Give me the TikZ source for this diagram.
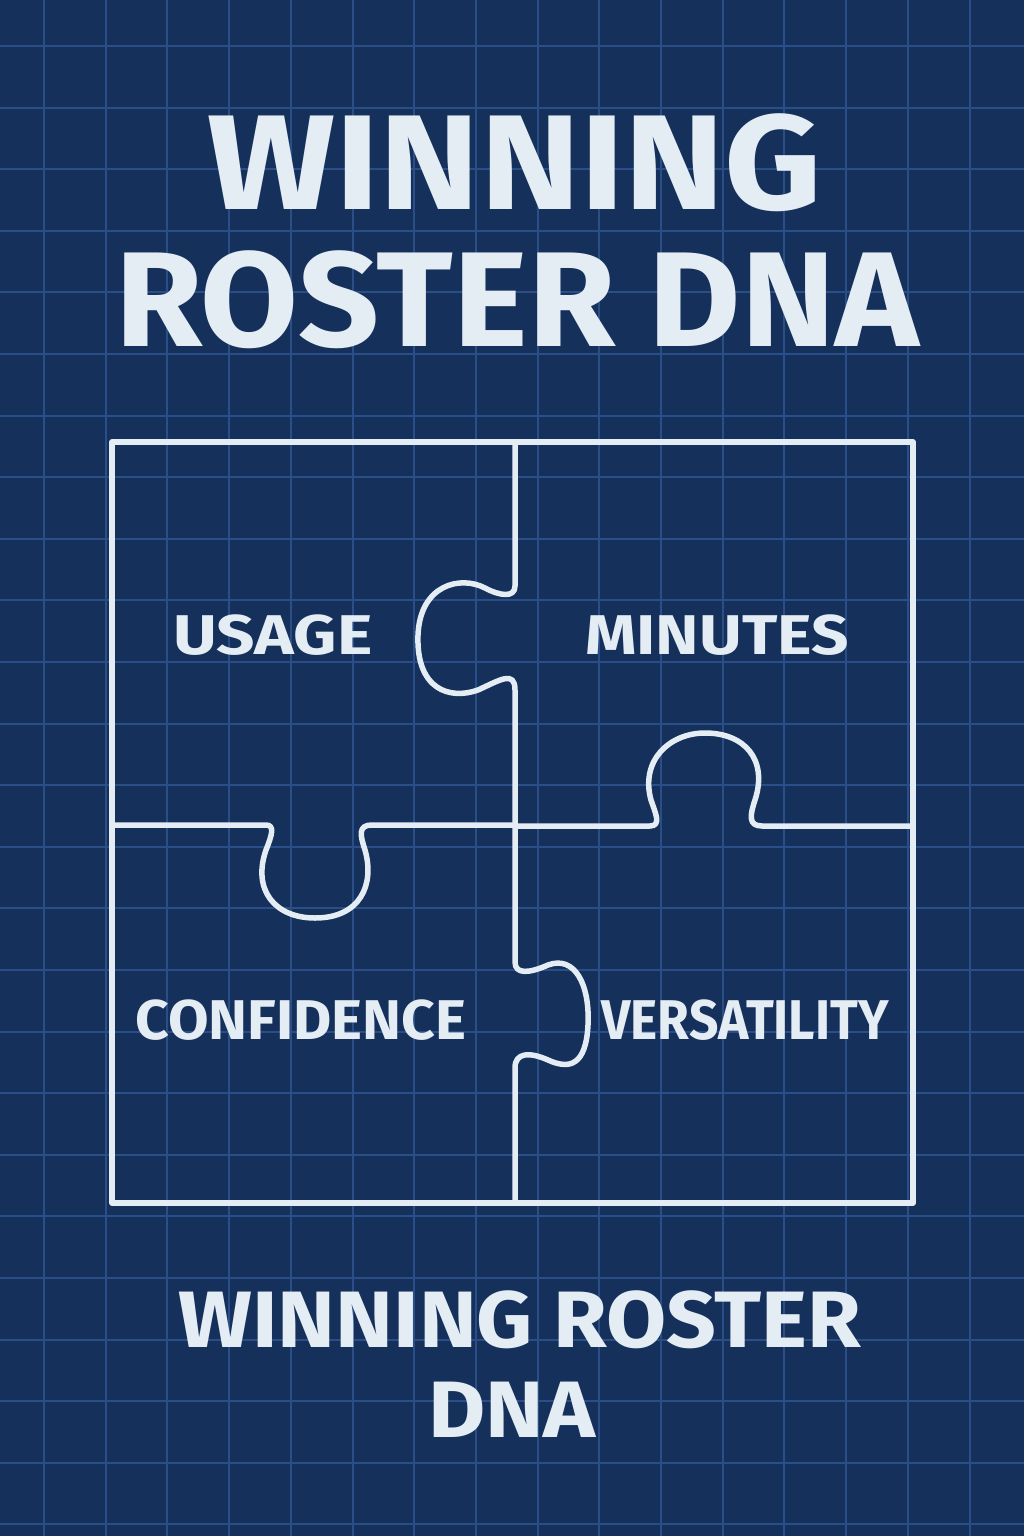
\documentclass[tikz,border=0pt]{standalone}
\usepackage{fontspec}
\setmainfont{Fira Sans}
\definecolor{bg}{HTML}{15305A}
\definecolor{gridc}{HTML}{2A4F88}
\definecolor{chalk}{HTML}{E4ECF4}
\begin{document}
\begin{tikzpicture}[x=1pt,y=-1pt,
  piece/.style={draw=chalk,line width=5.5pt,line join=round,line cap=round},
  lbl/.style={text=chalk,font=\fontsize{56}{56}\selectfont\bfseries,inner sep=0pt,anchor=center},
  ttl/.style={text=chalk,font=\fontsize{135}{135}\selectfont\bfseries,inner sep=0pt,anchor=center},
  sub/.style={text=chalk,font=\fontsize{80}{80}\selectfont\bfseries,inner sep=0pt,anchor=center}]
\fill[bg] (0,0) rectangle (1024,1536);
\useasboundingbox (0,0) rectangle (1024,1536);
\foreach \i in {0,...,16} {\draw[gridc,line width=2pt] (44+61.7*\i,0) -- (44+61.7*\i,1536);}
\foreach \i in {0,...,24} {\draw[gridc,line width=2pt] (0,46+61.6*\i) -- (1024,46+61.6*\i);}
% outer frame
\draw[piece] (112,442) rectangle (913,1203);
% top vertical with left knob
\draw[piece] (515,442) -- (515,586) .. controls (515,598) and (500,596) .. (485,588)
  .. controls (460,575) and (420,585) .. (418,635)
  .. controls (416,690) and (450,700) .. (478,690)
  .. controls (500,680) and (515,670) .. (515,690) -- (515,826);
% right horizontal with upward knob
\draw[piece] (515,826) -- (650,826) .. controls (662,826) and (655,812) .. (651,800)
  .. controls (640,760) and (670,733) .. (705,733)
  .. controls (745,733) and (768,760) .. (755,800)
  .. controls (750,815) and (748,826) .. (762,826) -- (913,826);
% left horizontal with downward knob
\draw[piece] (112,825) -- (266,825) .. controls (275,825) and (272,835) .. (266,850)
  .. controls (252,890) and (275,918) .. (315,918)
  .. controls (360,918) and (375,885) .. (365,850)
  .. controls (360,835) and (358,825) .. (372,825) -- (515,825);
% bottom vertical with right knob
\draw[piece] (515,826) -- (515,962) .. controls (515,975) and (530,973) .. (548,965)
  .. controls (575,955) and (590,985) .. (588,1025)
  .. controls (586,1065) and (570,1070) .. (548,1060)
  .. controls (530,1052) and (515,1052) .. (515,1068) -- (515,1203);
\node[ttl,xscale=1.12] (t1) at (515,163) {WINNING};
\node[ttl,xscale=1.05] (t2) at (517,300) {ROSTER DNA};
\node[lbl,xscale=1.2] (usage) at (273,635) {USAGE};
\node[lbl,xscale=1.17] (minutes) at (717,635) {MINUTES};
\node[lbl,xscale=1.05] (conf) at (301,1020) {CONFIDENCE};
\node[lbl,xscale=0.92] (vers) at (745,1020) {VERSATILITY};
\node[sub,xscale=1.09] (b1) at (520,1320) {WINNING ROSTER};
\node[sub,xscale=1.1] (b2) at (512,1410) {DNA};
\end{tikzpicture}
\end{document}
